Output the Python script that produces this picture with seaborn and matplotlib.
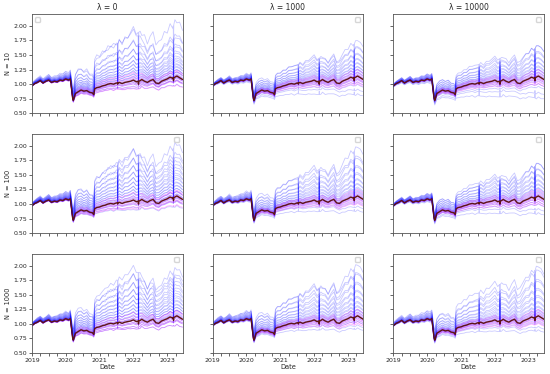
import matplotlib
matplotlib.use("Agg")
import matplotlib.pyplot as plt
import matplotlib.dates as mdates
import seaborn as sns
import pandas as pd

# sample dates (roughly monthly, extra points around the visible jumps / spikes)
dates = [
    "2019-01-01", "2019-02-01", "2019-03-01", "2019-04-01", "2019-05-01", "2019-06-01",
    "2019-07-01", "2019-08-01", "2019-09-01", "2019-10-01", "2019-11-01", "2019-12-01",
    "2020-01-01", "2020-02-01", "2020-02-20", "2020-03-16", "2020-03-23", "2020-04-15",
    "2020-05-15", "2020-06-15", "2020-07-15", "2020-08-15", "2020-09-15", "2020-10-15",
    "2020-10-30", "2020-11-09", "2020-12-01",
    "2021-01-01", "2021-02-01", "2021-03-01", "2021-04-01", "2021-05-01", "2021-06-01",
    "2021-07-01", "2021-07-12", "2021-07-15", "2021-07-18", "2021-08-01", "2021-09-01",
    "2021-10-01", "2021-11-01", "2021-12-01",
    "2022-01-01", "2022-02-01", "2022-02-22", "2022-02-25", "2022-02-28", "2022-03-15",
    "2022-04-01", "2022-05-01", "2022-06-01", "2022-07-01", "2022-08-01", "2022-09-01",
    "2022-10-01", "2022-11-01", "2022-12-01",
    "2023-01-01", "2023-02-01", "2023-03-01", "2023-03-07", "2023-03-10", "2023-03-13",
    "2023-03-25", "2023-04-15", "2023-05-15", "2023-06-15",
]

# benchmark path (dark red line)
base = [
    0.97, 1.01, 1.03, 1.06, 1.02, 1.05, 1.07, 1.03, 1.05, 1.04, 1.07, 1.06,
    1.09, 1.07, 1.09, 0.76, 0.72, 0.84, 0.87, 0.90, 0.88, 0.89, 0.86, 0.85, 0.82, 0.92, 0.94,
    0.95, 0.97, 0.98, 1.00, 1.01, 1.00, 1.02, 1.02, 1.00, 1.02, 1.03, 1.01, 1.03, 1.04, 1.05,
    1.07, 1.04, 1.05, 1.00, 1.05, 1.06, 1.08, 1.05, 1.03, 1.06, 1.08, 1.02, 1.01, 1.05, 1.07,
    1.09, 1.12, 1.10, 1.11, 1.06, 1.11, 1.12, 1.14, 1.11, 1.08,
]

# relative width of the fan, lambda = 0 column (two families of paths)
spread_fast_a = [
    0.05, 0.06, 0.07, 0.08, 0.07, 0.08, 0.09, 0.08, 0.09, 0.10, 0.11, 0.11,
    0.12, 0.12, 0.14, 0.22, 0.28, 0.38, 0.45, 0.40, 0.38, 0.42, 0.36, 0.38, 0.35, 0.55, 0.60,
    0.55, 0.62, 0.58, 0.66, 0.62, 0.70, 0.64, 0.66, 0.35, 0.66, 0.72, 0.66, 0.76, 0.72, 0.80,
    0.86, 0.78, 0.80, 0.40, 0.80, 0.80, 0.70, 0.76, 0.64, 0.72, 0.76, 0.64, 0.72, 0.68, 0.78,
    0.72, 0.82, 0.78, 0.80, 0.50, 0.82, 0.88, 0.80, 0.86, 0.78,
]
spread_fast_b = [
    0.06, 0.05, 0.08, 0.07, 0.08, 0.07, 0.10, 0.09, 0.08, 0.11, 0.10, 0.12,
    0.13, 0.11, 0.15, 0.25, 0.30, 0.45, 0.50, 0.46, 0.42, 0.44, 0.40, 0.40, 0.36, 0.58, 0.62,
    0.62, 0.66, 0.70, 0.68, 0.74, 0.72, 0.78, 0.78, 0.40, 0.76, 0.82, 0.80, 0.86, 0.84, 0.90,
    0.95, 0.88, 0.86, 0.45, 0.86, 0.84, 0.74, 0.70, 0.60, 0.66, 0.62, 0.56, 0.60, 0.58, 0.64,
    0.60, 0.66, 0.64, 0.66, 0.40, 0.66, 0.70, 0.66, 0.70, 0.66,
]

# relative width of the fan, lambda = 1000 / 10000 columns
spread_slow_a = [
    0.05, 0.06, 0.07, 0.08, 0.07, 0.08, 0.09, 0.08, 0.09, 0.10, 0.11, 0.11,
    0.12, 0.12, 0.13, 0.20, 0.24, 0.28, 0.32, 0.30, 0.29, 0.31, 0.28, 0.29, 0.27, 0.38, 0.41,
    0.40, 0.44, 0.42, 0.47, 0.45, 0.50, 0.47, 0.48, 0.30, 0.48, 0.51, 0.48, 0.54, 0.52, 0.56,
    0.59, 0.55, 0.57, 0.32, 0.57, 0.58, 0.53, 0.57, 0.50, 0.56, 0.60, 0.53, 0.58, 0.60, 0.65,
    0.62, 0.68, 0.67, 0.69, 0.48, 0.70, 0.74, 0.70, 0.72, 0.68,
]
spread_slow_b = [
    0.06, 0.05, 0.08, 0.07, 0.08, 0.07, 0.10, 0.09, 0.08, 0.11, 0.10, 0.12,
    0.13, 0.11, 0.14, 0.22, 0.26, 0.32, 0.36, 0.33, 0.31, 0.33, 0.30, 0.31, 0.28, 0.36, 0.38,
    0.36, 0.40, 0.38, 0.42, 0.41, 0.45, 0.44, 0.45, 0.28, 0.45, 0.48, 0.46, 0.52, 0.50, 0.55,
    0.58, 0.52, 0.54, 0.30, 0.54, 0.56, 0.50, 0.53, 0.47, 0.53, 0.58, 0.50, 0.56, 0.62, 0.70,
    0.66, 0.74, 0.72, 0.74, 0.50, 0.76, 0.80, 0.76, 0.78, 0.74,
]

lambdas = ["λ = 0", "λ = 1000", "λ = 10000"]
sizes = ["N = 10", "N = 100", "N = 1000"]

# position of each blue portfolio inside the fan, per panel (row = N, col = lambda)
blue_levels = [
    [
        [-0.15, -0.10, -0.07, -0.04, -0.02, 0.00, 0.02, 0.05, 0.07, 0.10, 0.12, 0.15, 0.18,
         0.20, 0.23, 0.26, 0.30, 0.33, 0.37, 0.41, 0.46, 0.52, 0.58, 0.66, 0.75, 0.86, 1.00],
        [-0.38, -0.26, -0.18, -0.12, -0.08, -0.05, -0.02, 0.00, 0.03, 0.06, 0.09, 0.12, 0.15,
         0.18, 0.21, 0.25, 0.29, 0.33, 0.38, 0.43, 0.49, 0.56, 0.63, 0.70],
        [-0.45, -0.32, -0.22, -0.15, -0.10, -0.06, -0.03, 0.00, 0.03, 0.06, 0.09, 0.12, 0.15,
         0.18, 0.22, 0.26, 0.30, 0.35, 0.40, 0.46, 0.53, 0.60, 0.65],
    ],
    [
        [-0.18, -0.12, -0.08, -0.05, -0.02, 0.00, 0.03, 0.05, 0.08, 0.11, 0.14, 0.17, 0.20,
         0.23, 0.26, 0.30, 0.34, 0.38, 0.42, 0.47, 0.52, 0.58, 0.64, 0.71, 0.78, 0.87, 0.95],
        [-0.30, -0.20, -0.14, -0.09, -0.05, -0.02, 0.00, 0.03, 0.06, 0.09, 0.12, 0.15, 0.19,
         0.23, 0.27, 0.32, 0.37, 0.43, 0.50, 0.57, 0.65, 0.74, 0.85, 0.96],
        [-0.36, -0.25, -0.17, -0.11, -0.07, -0.03, 0.00, 0.03, 0.06, 0.09, 0.12, 0.15, 0.18,
         0.22, 0.26, 0.30, 0.35, 0.40, 0.46, 0.52, 0.58, 0.64, 0.70],
    ],
    [
        [-0.16, -0.11, -0.07, -0.04, -0.01, 0.02, 0.04, 0.07, 0.10, 0.13, 0.16, 0.19, 0.22,
         0.25, 0.29, 0.33, 0.37, 0.41, 0.46, 0.51, 0.57, 0.63, 0.70, 0.78, 0.86, 0.92],
        [-0.26, -0.18, -0.12, -0.08, -0.04, -0.01, 0.02, 0.05, 0.08, 0.11, 0.14, 0.18, 0.22,
         0.26, 0.31, 0.36, 0.42, 0.48, 0.55, 0.63, 0.72, 0.82, 0.92, 1.00],
        [-0.30, -0.21, -0.14, -0.09, -0.05, -0.02, 0.01, 0.04, 0.07, 0.10, 0.13, 0.17, 0.21,
         0.26, 0.31, 0.37, 0.44, 0.51, 0.59, 0.68, 0.78, 0.90, 1.05],
    ],
]

# magenta portfolios hugging the benchmark
pink_levels = [-0.16, -0.11, -0.07, -0.04, -0.01, 0.03, 0.08, 0.13]

sns.set_style("white")
plt.rcParams["font.family"] = ["DejaVu Sans"]
plt.rcParams["font.size"] = 4.5

dt = pd.to_datetime(dates)

fig, axes = plt.subplots(3, 3, figsize=(5.5, 3.74), dpi=100, sharex=True, sharey=True)
fig.subplots_adjust(left=0.058, right=0.989, top=0.962, bottom=0.056, wspace=0.2, hspace=0.21)


def fan_frame(levels, spread_a, spread_b):
    # every other path follows the second family of fan widths
    rows = []
    for k, s in enumerate(levels):
        spread = spread_a if k % 2 == 0 else spread_b
        for d, b, w in zip(dt, base, spread):
            rows.append({"date": d, "value": b * (1 + s * w), "line": k})
    return pd.DataFrame(rows)


for i in range(3):
    for j in range(3):
        ax = axes[i, j]
        if j == 0:
            sa, sb = spread_fast_a, spread_fast_b
        else:
            sa, sb = spread_slow_a, spread_slow_b

        sns.lineplot(data=fan_frame(pink_levels, sa, sb), x="date", y="value", units="line",
                     estimator=None, color="magenta", alpha=0.3, lw=0.6, ax=ax)
        sns.lineplot(data=fan_frame(blue_levels[i][j], sa, sb), x="date", y="value", units="line",
                     estimator=None, color="blue", alpha=0.21, lw=0.6, ax=ax)
        sns.lineplot(x=dt, y=base, color="#5e1414", lw=1.0, ax=ax)

        ax.set_xlim(dt[0], dt[-1])
        ax.set_ylim(0.5, 2.2)
        ax.set_yticks([0.5, 0.75, 1.0, 1.25, 1.5, 1.75, 2.0])
        ax.xaxis.set_major_locator(mdates.YearLocator())
        ax.xaxis.set_major_formatter(mdates.DateFormatter("%Y"))
        ax.xaxis.set_minor_locator(mdates.MonthLocator(bymonth=[1, 4, 7, 10]))
        ax.tick_params(which="both", direction="out", length=2, width=0.5, bottom=True, left=True,
                       labelsize=4.5, pad=1.5)
        for sp in ax.spines.values():
            sp.set_linewidth(0.6)
            sp.set_color("#555555")

        ax.set_xlabel("Date" if i == 2 else "", fontsize=4.8, labelpad=1)
        ax.set_ylabel(sizes[i] if j == 0 else "", fontsize=4.8, labelpad=2)
        if i == 0:
            ax.set_title(lambdas[j], fontsize=5.5, pad=3)
        ax.legend(handles=[], loc="upper left" if (i == 0 and j == 0) else "upper right",
                  fontsize=4.5, borderpad=0.4, edgecolor="#cccccc")

fig.savefig("out.png", dpi=100)
